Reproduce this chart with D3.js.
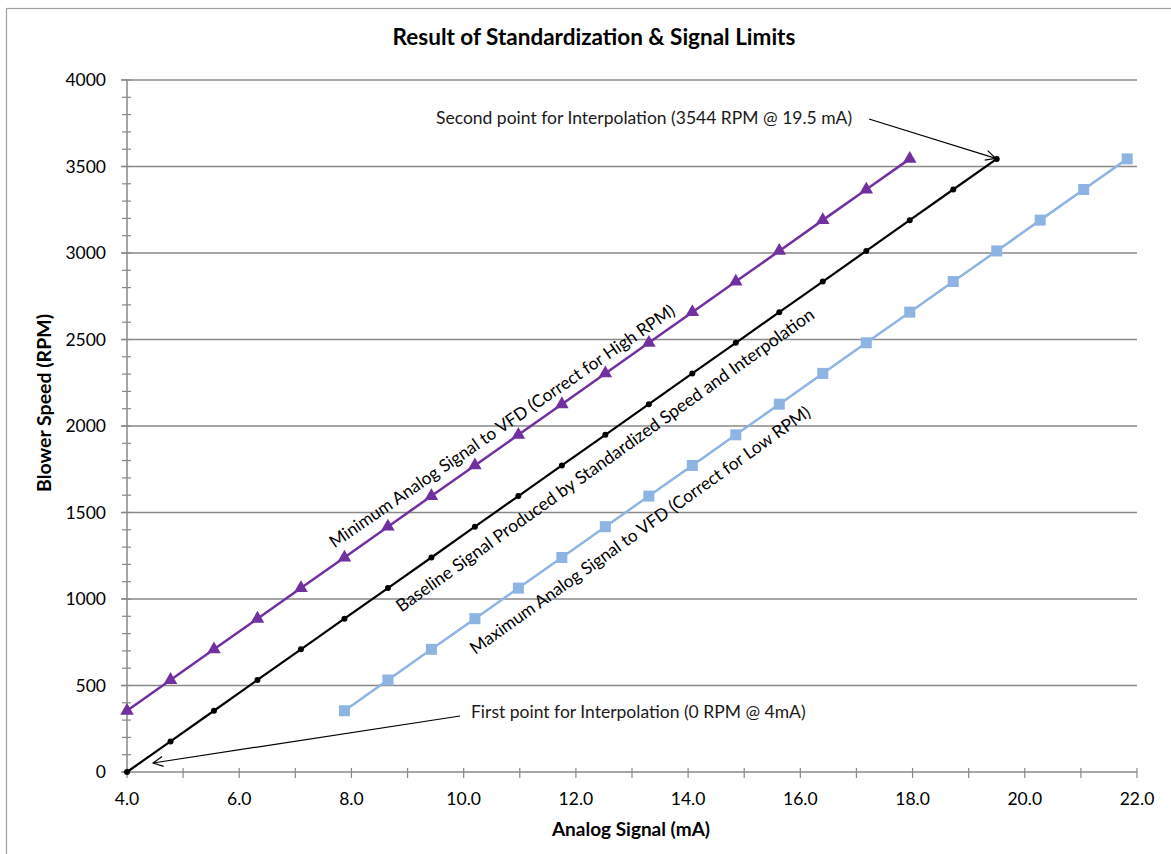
<!DOCTYPE html>
<html>
<head>
<meta charset="utf-8">
<script src="https://cdn.jsdelivr.net/npm/d3@7"></script>
<style>
  html, body { margin: 0; padding: 0; background: #fff; }
  svg { display: block; font-family: Lato, "Open Sans", sans-serif; }
</style>
</head>
<body>
<svg id="chart" width="1171" height="854"></svg>
<script>
// ---- Data ----
const baselineMA  = [4.0, 4.775, 5.55, 6.325, 7.1, 7.875, 8.65, 9.425, 10.2, 10.975, 11.75, 12.525, 13.3, 14.075, 14.85, 15.625, 16.4, 17.175, 17.95, 18.725, 19.5];
const baselineRPM = [0, 177, 354, 532, 709, 886, 1063, 1240, 1418, 1595, 1772, 1949, 2126, 2304, 2481, 2658, 2835, 3012, 3190, 3367, 3544];
const minimumMA   = [4.0, 4.775, 5.55, 6.325, 7.1, 7.875, 8.65, 9.425, 10.2, 10.975, 11.75, 12.525, 13.3, 14.075, 14.85, 15.625, 16.4, 17.175, 17.95];
const minimumRPM  = [354, 532, 709, 886, 1063, 1240, 1418, 1595, 1772, 1949, 2126, 2304, 2481, 2658, 2835, 3012, 3190, 3367, 3544];
const maximumMA   = [7.875, 8.65, 9.425, 10.2, 10.975, 11.75, 12.525, 13.3, 14.075, 14.85, 15.625, 16.4, 17.175, 17.95, 18.725, 19.5, 20.275, 21.05, 21.825];
const maximumRPM  = [354, 532, 709, 886, 1063, 1240, 1418, 1595, 1772, 1949, 2126, 2304, 2481, 2658, 2835, 3012, 3190, 3367, 3544];
const xTickValues = [4, 6, 8, 10, 12, 14, 16, 18, 20, 22];
const xMinorTicks = [5, 7, 9, 11, 13, 15, 17, 19, 21];
const yTickValues = [0, 500, 1000, 1500, 2000, 2500, 3000, 3500, 4000];
const yMinorTicks = d3.range(0, 4001, 100);

const titleText = "Result of Standardization & Signal Limits";
const xTitle = "Analog Signal (mA)";
const yTitle = "Blower Speed (RPM)";
const labelMin = "Minimum Analog Signal to VFD (Correct for High RPM)";
const labelBase = "Baseline Signal Produced by Standardized Speed and Interpolation";
const labelMax = "Maximum Analog Signal to VFD (Correct for Low RPM)";
const noteSecond = "Second point for Interpolation (3544 RPM @ 19.5 mA)";
const noteFirst = "First point for Interpolation (0 RPM @ 4mA)";

// ---- Layout ----
const svg = d3.select("#chart");
const pLeft = 127, pRight = 1137, pTop = 80, pBottom = 772;
const x = d3.scaleLinear().domain([4, 22]).range([pLeft, pRight]);
const y = d3.scaleLinear().domain([0, 4000]).range([pBottom, pTop]);
const gridColor = "#898989";

// chart border
svg.append("rect").attr("x", 6.5).attr("y", 8.5).attr("width", 1200).attr("height", 900)
  .attr("fill", "#fff").attr("stroke", "#a0a0a0").attr("stroke-width", 1.2);

// title
svg.append("text").attr("x", 594).attr("y", 45).attr("text-anchor", "middle")
  .attr("font-weight", "bold").attr("font-size", 22.5).attr("fill", "#000").text(titleText);

// gridlines
svg.append("g").selectAll("line").data(yTickValues.filter(d => d > 0)).join("line")
  .attr("x1", pLeft).attr("x2", pRight).attr("y1", d => y(d)).attr("y2", d => y(d))
  .attr("stroke", gridColor).attr("stroke-width", 1.5);

// y minor ticks
svg.append("g").selectAll("line").data(yMinorTicks).join("line")
  .attr("x1", pLeft - 5).attr("x2", pLeft + 4).attr("y1", d => y(d)).attr("y2", d => y(d))
  .attr("stroke", gridColor).attr("stroke-width", 1.2);
// y major ticks
svg.append("g").selectAll("line").data(yTickValues).join("line")
  .attr("x1", pLeft - 6).attr("x2", pLeft).attr("y1", d => y(d)).attr("y2", d => y(d))
  .attr("stroke", gridColor).attr("stroke-width", 1.5);
// y axis line
svg.append("line").attr("x1", pLeft).attr("x2", pLeft).attr("y1", pTop).attr("y2", pBottom)
  .attr("stroke", gridColor).attr("stroke-width", 1.5);
// y labels
svg.append("g").selectAll("text").data(yTickValues).join("text")
  .attr("x", 106).attr("y", d => y(d)).attr("dy", "0.35em").attr("text-anchor", "end")
  .attr("font-size", 17.5).attr("fill", "#000").text(d => d);

// x axis line
svg.append("line").attr("x1", pLeft).attr("x2", pRight).attr("y1", pBottom).attr("y2", pBottom)
  .attr("stroke", gridColor).attr("stroke-width", 1.5);
// x ticks
svg.append("g").selectAll("line").data(xTickValues.concat(xMinorTicks)).join("line")
  .attr("x1", d => x(d)).attr("x2", d => x(d)).attr("y1", pBottom - 4).attr("y2", pBottom + 6)
  .attr("stroke", gridColor).attr("stroke-width", 1.2);
svg.append("g").selectAll("text").data(xTickValues).join("text")
  .attr("x", d => x(d)).attr("y", 805).attr("text-anchor", "middle")
  .attr("font-size", 17.5).attr("fill", "#000").text(d => d3.format(".1f")(d));

// axis titles
svg.append("text").attr("x", 631).attr("y", 836).attr("text-anchor", "middle")
  .attr("font-weight", "bold").attr("font-size", 19).attr("fill", "#000").text(xTitle);
svg.append("text").attr("transform", "translate(51,403) rotate(-90)").attr("text-anchor", "middle")
  .attr("font-weight", "bold").attr("font-size", 19.5).attr("fill", "#000").text(yTitle);

// series
const line = d3.line().x(d => x(d[0])).y(d => y(d[1]));
const minData = minimumMA.map((m, i) => [m, minimumRPM[i]]);
const baseData = baselineMA.map((m, i) => [m, baselineRPM[i]]);
const maxData = maximumMA.map((m, i) => [m, maximumRPM[i]]);

const purple = "#7030A0", blue = "#8DB4E2";

svg.append("path").datum(maxData).attr("d", line).attr("fill", "none").attr("stroke", blue).attr("stroke-width", 2.5);
svg.append("g").selectAll("rect").data(maxData).join("rect")
  .attr("x", d => x(d[0]) - 5.5).attr("y", d => y(d[1]) - 5.5).attr("width", 11).attr("height", 11)
  .attr("fill", blue);

svg.append("path").datum(minData).attr("d", line).attr("fill", "none").attr("stroke", purple).attr("stroke-width", 2.5);
svg.append("g").selectAll("path").data(minData).join("path")
  .attr("transform", d => `translate(${x(d[0])},${y(d[1])})`)
  .attr("d", d3.symbol(d3.symbolTriangle, 80)).attr("fill", purple);

svg.append("path").datum(baseData).attr("d", line).attr("fill", "none").attr("stroke", "#000").attr("stroke-width", 2.2);
svg.append("g").selectAll("circle").data(baseData).join("circle")
  .attr("cx", d => x(d[0])).attr("cy", d => y(d[1])).attr("r", 3).attr("fill", "#000");

// rotated series labels
function rotLabel(txt, cx, cy, ang, fs) {
  svg.append("text").attr("transform", `translate(${cx},${cy}) rotate(${ang})`)
    .attr("text-anchor", "middle").attr("dy", "0.35em")
    .attr("font-size", fs).attr("fill", "#000").text(txt);
}
rotLabel(labelMin, 502, 426, -34.5, 17.3);
rotLabel(labelBase, 605, 460, -35.5, 17.6);
rotLabel(labelMax, 640, 530, -35.5, 17.3);

// annotations
const defs = svg.append("defs");
defs.append("marker").attr("id", "openArrow").attr("viewBox", "0 0 12 12")
  .attr("refX", 11).attr("refY", 6).attr("markerWidth", 12).attr("markerHeight", 12)
  .attr("markerUnits", "userSpaceOnUse").attr("orient", "auto")
  .append("path").attr("d", "M1,1 L11,6 L1,11").attr("fill", "none").attr("stroke", "#000").attr("stroke-width", 1.2);

svg.append("text").attr("x", 436).attr("y", 124).attr("font-size", 17.5).attr("fill", "#1a1a1a").text(noteSecond);
svg.append("line").attr("x1", 869).attr("y1", 119).attr("x2", x(19.5) - 1).attr("y2", y(3544) - 0.5)
  .attr("stroke", "#000").attr("stroke-width", 1.2).attr("marker-end", "url(#openArrow)");

svg.append("text").attr("x", 471).attr("y", 718).attr("font-size", 17.5).attr("fill", "#1a1a1a").text(noteFirst);
svg.append("line").attr("x1", 460).attr("y1", 716).attr("x2", 153).attr("y2", 763)
  .attr("stroke", "#000").attr("stroke-width", 1.2).attr("marker-end", "url(#openArrow)");
</script>
</body>
</html>
